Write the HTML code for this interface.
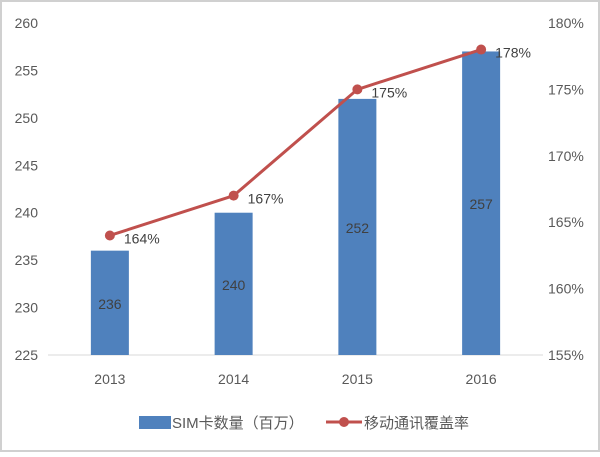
<!DOCTYPE html>
<html><head><meta charset="utf-8"><style>
body{margin:0;background:#fff}
svg{font-family:"Liberation Sans","Noto Sans CJK SC",sans-serif}
</style></head><body>
<svg id="c" width="600" height="452">
<rect x="1" y="1" width="598" height="450" fill="#fff" stroke="#d0d0d0" stroke-width="2"/>
</svg>
<script>
const categories=["2013","2014","2015","2016"];
const simValues=[236,240,252,257];
const coverage=[164,167,175,178];
const leftTicks=[225,230,235,240,245,250,255,260];
const rightTicks=[155,160,165,170,175,180];
const svg=document.getElementById('c');
const NS='http://www.w3.org/2000/svg';
const X0=48,X1=543,Y0=355,Y1=23;
const yL=v=>Y0-(v-225)/(260-225)*(Y0-Y1);
const yR=v=>Y0-(v-155)/(180-155)*(Y0-Y1);
const band=(X1-X0)/categories.length;
const xc=i=>X0+band*(i+0.5);
function mk(t,a,txt){const e=document.createElementNS(NS,t);for(const k in a)e.setAttribute(k,a[k]);if(txt!=null)e.textContent=txt;svg.appendChild(e);return e;}
leftTicks.forEach(v=>{const e=mk('text',{x:38,y:yL(v)+5,'text-anchor':'end','font-size':14,fill:'#595959'},v);

});
rightTicks.forEach(v=>{const e=mk('text',{x:548,y:yR(v)+5,'font-size':14,fill:'#595959'},v+'%');

});
const ax=mk('line',{x1:X0,x2:X1,y1:Y0,y2:Y0,stroke:'#d9d9d9','stroke-width':1});


categories.forEach((c,i)=>{
const b=mk('rect',{x:xc(i)-19,y:yL(simValues[i]),width:38,height:Y0-yL(simValues[i]),fill:'#4f81bd'});


const l=mk('text',{x:xc(i),y:(yL(simValues[i])+Y0)/2+6,'text-anchor':'middle','font-size':14,fill:'#404040'},simValues[i]);


const t=mk('text',{x:xc(i),y:Y0+29,'text-anchor':'middle','font-size':14,fill:'#595959'},c);

});
const pl=mk('polyline',{points:coverage.map((v,i)=>xc(i)+','+yR(v)).join(' '),fill:'none',stroke:'#c0504d','stroke-width':3});


coverage.forEach((v,i)=>{
const p=mk('circle',{cx:xc(i),cy:yR(v),r:5,fill:'#c0504d'});


const l=mk('text',{x:xc(i)+14,y:yR(v)+8,'font-size':14,fill:'#404040'},v+'%');

});
const lg1=mk('rect',{x:139,y:416,width:32,height:13,fill:'#4f81bd'});


const lt1=mk('text',{x:172,y:428,'font-size':15,fill:'#595959'},'SIM卡数量（百万）');


const lg2=mk('line',{x1:326,x2:362,y1:422,y2:422,stroke:'#c0504d','stroke-width':3});


const lg3=mk('circle',{cx:344,cy:422,r:5,fill:'#c0504d'});


const lt2=mk('text',{x:364,y:428,'font-size':15,fill:'#595959'},'移动通讯覆盖率');


</script>
</body></html>
